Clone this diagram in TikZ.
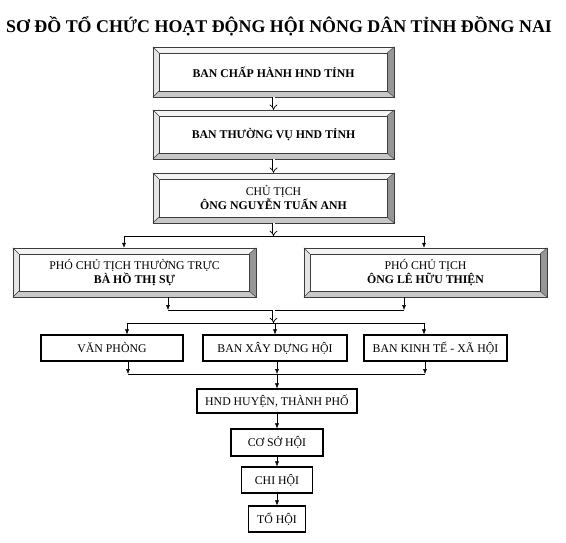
\documentclass[tikz,border=0pt]{standalone}
\usepackage{fontspec}
\setmainfont{Liberation Serif}
\usetikzlibrary{arrows.meta, calc, positioning}
\definecolor{bevtop}{RGB}{244, 244, 244}
\definecolor{bevleft}{RGB}{228, 228, 228}
\definecolor{bevbottom}{RGB}{200, 200, 200}
\definecolor{bevright}{RGB}{150, 150, 150}
\definecolor{bevline}{RGB}{60, 60, 60}

% bevelled frame round a named node
\newcommand{\bevel}[1]{%
  \fill[bevtop] (#1.north west) -- (#1.north east) -- ($(#1.north east)+(-7,6)$) -- ($(#1.north west)+(6,6)$) -- cycle;
  \fill[bevleft] (#1.north west) -- (#1.south west) -- ($(#1.south west)+(6,-6)$) -- ($(#1.north west)+(6,6)$) -- cycle;
  \fill[bevbottom] (#1.south west) -- (#1.south east) -- ($(#1.south east)+(-7,-6)$) -- ($(#1.south west)+(6,-6)$) -- cycle;
  \fill[bevright] (#1.north east) -- (#1.south east) -- ($(#1.south east)+(-7,-6)$) -- ($(#1.north east)+(-7,6)$) -- cycle;
  \draw[bevline, line width=0.6pt] (#1.north west) rectangle (#1.south east);
  \draw[bevline, line width=0.4pt] ($(#1.north west)+(6,6)$) rectangle ($(#1.south east)+(-7,-6)$);
  \draw[bevline, line width=0.4pt] (#1.north west) -- ++(6,6) (#1.north east) -- ++(-7,6)
    (#1.south west) -- ++(6,-6) (#1.south east) -- ++(-7,-6);
}

\begin{document}
\begin{tikzpicture}[x=1pt, y=-1pt, font=\fontsize{11.8}{14}\selectfont]
  \tikzset{
    bevelbox/.style={minimum width=241pt, minimum height=50pt, inner sep=0pt, align=center},
    plainbox/.style={draw, line width=1.1pt, minimum height=26pt, inner sep=0pt},
    dblarrow/.style={double, double distance=2pt, line width=0.7pt, -{Implies[length=3pt]}},
    link/.style={line width=0.5pt, -{Latex[length=5pt, width=4pt]}}
  }
  \useasboundingbox (0,0) rectangle (566,542);

  \node[font=\fontsize{17.9}{20}\selectfont\bfseries] (title) at (279,26)
    {SƠ ĐỒ TỔ CHỨC HOẠT ĐỘNG HỘI NÔNG DÂN TỈNH ĐỒNG NAI};

  % upper levels
  \node[bevelbox] (bch) at (273.5,72) {\textbf{BAN CHẤP HÀNH HND TỈNH}};
  \bevel{bch}
  \node[bevelbox, minimum height=49pt] (btv) at (273.5,134.5) {\textbf{BAN THƯỜNG VỤ HND TỈNH}};
  \bevel{btv}
  \node[bevelbox] (ct) at (273.5,198) {CHỦ TỊCH\\\textbf{ÔNG NGUYỄN TUẤN ANH}};
  \bevel{ct}

  \node[bevelbox, minimum width=243pt, minimum height=49pt] (pct1) at (134.5,272.5)
    {PHÓ CHỦ TỊCH THƯỜNG TRỰC\\\textbf{BÀ HỒ THỊ SỰ}};
  \bevel{pct1}
  \node[bevelbox, minimum width=243pt, minimum height=49pt] (pct2) at (425.5,272.5)
    {PHÓ CHỦ TỊCH\\\textbf{ÔNG LÊ HỮU THIỆN}};
  \bevel{pct2}

  % departments
  \node[plainbox, minimum width=142pt] (vp) at (112,348) {VĂN PHÒNG};
  \node[plainbox, minimum width=144pt] (bxd) at (275,348) {BAN XÂY DỰNG HỘI};
  \node[plainbox, minimum width=143pt] (bkt) at (435.5,348) {BAN KINH TẾ - XÃ HỘI};

  % lower levels
  \node[plainbox, minimum width=160pt, minimum height=24pt] (hnd) at (277,401) {HND HUYỆN, THÀNH PHỐ};
  \node[plainbox, minimum width=92pt, minimum height=27pt] (css) at (277,442.5) {CƠ SỞ HỘI};
  \node[plainbox, minimum width=71pt] (chi) at (277,480) {CHI HỘI};
  \node[plainbox, minimum width=57pt] (to) at (277,519) {TỔ HỘI};

  % junctions
  \coordinate (j1) at (273.5,236);
  \coordinate (j1l) at (124,236);
  \coordinate (j1r) at (424,236);
  \coordinate (j2) at (273.5,310);
  \coordinate (j2l) at (168,310);
  \coordinate (j2r) at (404,310);
  \coordinate (j3) at (273.5,323);
  \coordinate (j3l) at (127,323);
  \coordinate (j3r) at (424,323);
  \coordinate (j4l) at (128,374);
  \coordinate (j4c) at (277,374);
  \coordinate (j4r) at (425,374);

  \draw[dblarrow] (bch) -- (btv);
  \draw[dblarrow] (btv) -- (ct);
  \draw[dblarrow] (ct) -- (j1);
  \draw[line width=0.5pt] (j1l) -- (j1r);
  \draw[link] (j1l) -- (j1l |- pct1.north);
  \draw[link] (j1r) -- (j1r |- pct2.north);

  \draw[link] (pct1.south -| j2l) -- (j2l);
  \draw[link] (pct2.south -| j2r) -- (j2r);
  \draw[line width=0.5pt] (j2l) -- (j2r);
  \draw[dblarrow] (j2) -- (j3);
  \draw[line width=0.5pt] (j3l) -- (j3r);
  \draw[link] (j3l) -- (j3l |- vp.north);
  \draw[link] (bxd.north |- j3) -- (bxd);
  \draw[link] (j3r) -- (j3r |- bkt.north);

  \draw[link] (vp.south -| j4l) -- (j4l);
  \draw[link] (bxd.south -| j4c) -- (j4c);
  \draw[link] (bkt.south -| j4r) -- (j4r);
  \draw[line width=0.5pt] (j4l) -- (j4r);
  \draw[link] (j4c) -- (hnd);
  \draw[link] (hnd) -- (css);
  \draw[link] (css) -- (chi);
  \draw[link] (chi) -- (to);
\end{tikzpicture}
\end{document}
